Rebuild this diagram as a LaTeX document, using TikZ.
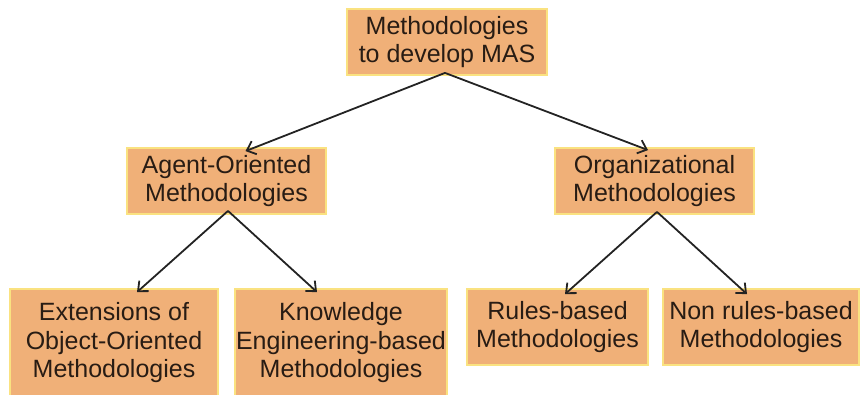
\documentclass[tikz,border=0pt]{standalone}
\usepackage{fontspec}
\setmainfont{Liberation Sans}
\usetikzlibrary{arrows.meta}
\definecolor{boxfill}{RGB}{240,176,120}
\definecolor{boxline}{RGB}{250,226,128}
\definecolor{boxtext}{RGB}{40,28,20}
\definecolor{arrowcol}{RGB}{35,35,35}
\begin{document}
\begin{tikzpicture}[x=1pt,y=-1pt,
  mbox/.style={draw=boxline, line width=1.8pt, fill=boxfill, text=boxtext,
    inner sep=0pt, align=center, font=\fontsize{25}{28.5}\selectfont},
  conn/.style={draw=arrowcol, line width=1.8pt,
    -{Straight Barb[length=8pt,width=14pt,line width=1.8pt]}}]
\useasboundingbox (0,0) rectangle (861,394);
\begin{scope}
\clip (0,0) rectangle (861,394);
\node[mbox, minimum width=200pt, minimum height=66pt] (top) at (447,42) {Methodologies\\to develop MAS};
\node[mbox, minimum width=199pt, minimum height=66pt] (agent) at (226.5,181) {Agent-Oriented\\Methodologies};
\node[mbox, minimum width=199pt, minimum height=66pt] (org) at (654.5,181) {Organizational\\Methodologies};
\node[mbox, minimum width=208pt, minimum height=108pt] (ext) at (114,343) {Extensions of\\Object-Oriented\\Methodologies};
\node[mbox, minimum width=212pt, minimum height=108pt] (know) at (341,343) {Knowledge\\Engineering-based\\Methodologies};
\node[mbox, minimum width=181pt, minimum height=76pt] (rules) at (557.5,327) {Rules-based\\Methodologies};
\node[mbox, minimum width=196pt, minimum height=76pt] (nonrules) at (761,327) {Non rules-based\\Methodologies};
\end{scope}
\draw[conn] ([xshift=-2pt,yshift=3pt]top.south) -- ([xshift=19pt,yshift=-4pt]agent.north);
\draw[conn] ([xshift=-2pt,yshift=3pt]top.south) -- ([xshift=-6.5pt,yshift=-3pt]org.north);
\draw[conn] ([xshift=1.5pt,yshift=4pt]agent.south) -- ([xshift=23pt,yshift=-4pt]ext.north);
\draw[conn] ([xshift=1.5pt,yshift=4pt]agent.south) -- ([xshift=-24pt,yshift=-4pt]know.north);
\draw[conn] ([xshift=2.5pt,yshift=3pt]org.south) -- ([xshift=7.5pt,yshift=-6pt]rules.north);
\draw[conn] ([xshift=2.5pt,yshift=3pt]org.south) -- ([xshift=-14pt,yshift=-6pt]nonrules.north);
\end{tikzpicture}
\end{document}
